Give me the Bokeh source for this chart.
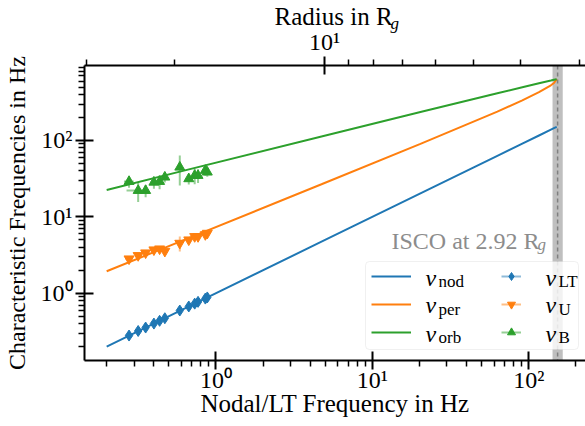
from bokeh.plotting import figure
from bokeh.models import (FixedTicker, LinearAxis, Label, Legend, LegendItem,
                          BoxAnnotation, Span, Range1d, Title)
from bokeh.embed import file_html
from bokeh.resources import INLINE

# ---------------- data ----------------
# model curves, sampled along the nodal-frequency axis
line_x = [0.2, 0.633, 4.73, 20.3, 63.0, 91.0, 116.3, 138.6, 145.0, 151.0]
nu_nod = [0.2, 0.633, 4.73, 20.3, 63.0, 91.0, 116.3, 138.6, 145.0, 151.0]
nu_per = [1.94, 5.04, 26.7, 90.2, 239.0, 336.0, 429.0, 528.0, 566.0, 636.0]
nu_orb = [22.5, 40.6, 112.9, 236.0, 416.0, 498.0, 561.0, 610.0, 624.0, 636.0]

# observed QPOs (x = measured LT frequency)
obs_x = [0.278, 0.318, 0.355, 0.401, 0.436, 0.471, 0.587, 0.670, 0.731, 0.768, 0.855, 0.880]
obs_xerr = [0.015, 0.012, 0.012, 0.015, 0.015, 0.015, 0.02, 0.02, 0.02, 0.02, 0.025, 0.025]
nu_LT = [0.279, 0.32, 0.355, 0.40, 0.435, 0.47, 0.593, 0.67, 0.73, 0.77, 0.85, 0.88]
nu_LT_err = [0.015, 0.012, 0.012, 0.015, 0.015, 0.015, 0.02, 0.02, 0.02, 0.02, 0.025, 0.025]
nu_U = [2.82, 3.12, 3.38, 3.70, 3.81, 3.55, 4.52, 5.00, 5.53, 5.53, 5.87, 6.11]
nu_U_err = [0.25, 0.2, 0.2, 0.25, 0.3, 0.3, 1.0, 0.3, 0.35, 0.3, 0.3, 0.3]
nu_B = [29.0, 22.1, 22.1, 28.4, 29.0, 33.1, 44.7, 31.5, 34.8, 34.8, 40.5, 38.5]
nu_B_err = [5.0, 6.5, 4.0, 5.0, 6.0, 5.0, 19.0, 5.0, 8.0, 7.0, 6.0, 5.0]
nu_B_xerr = [0.02, 0.05, 0.015, 0.02, 0.02, 0.02, 0.02, 0.03, 0.03, 0.02, 0.02, 0.02]

# ISCO
isco_freq = 153.0
isco_lo, isco_hi = 142.0, 165.0

# tick labels
major_ticks = [1, 10, 100]
major_labels = {1: "10⁰", 10: "10¹", 100: "10²"}
x_minor = [0.2, 0.3, 0.4, 0.5, 0.6, 0.7, 0.8, 0.9, 2, 3, 4, 5, 6, 7, 8, 9,
           20, 30, 40, 50, 60, 70, 80, 90, 200]
y_minor = x_minor + [300, 400, 500, 600, 700, 800, 900]
# top axis: radius in R_g -> position on the nodal-frequency axis
top_radius = [30, 20, 10, 9, 8, 7, 6, 5, 4, 3]
top_freq = [0.1486, 0.540, 4.947, 7.03, 10.15, 15.53, 25.19, 44.63, 88.9, 211.3]
top_major_radius = 10

BLUE, ORANGE, GREEN = "#1f77b4", "#ff7f0e", "#2ca02c"
FONT = "Liberation Serif"

p = figure(width=585, height=426, x_axis_type="log", y_axis_type="log",
           x_range=Range1d(0.1443, 230.7), y_range=Range1d(0.1314, 960),
           output_backend="svg", toolbar_location=None,
           min_border_left=82, min_border_right=0, min_border_top=65,
           min_border_bottom=66)
p.outline_line_color = None
p.grid.visible = False
p.background_fill_color = "white"
p.border_fill_color = "white"


def style_axis(ax):
    ax.axis_line_width = 2
    ax.axis_line_color = "black"
    ax.major_tick_line_width = 2
    ax.minor_tick_line_width = 1.5
    ax.major_tick_in = 9
    ax.major_tick_out = 9
    ax.minor_tick_in = 0
    ax.minor_tick_out = 6
    ax.major_label_text_font = FONT
    ax.major_label_text_font_size = "24px"
    ax.major_label_text_color = "black"
    ax.axis_label_text_font = FONT
    ax.axis_label_text_font_size = "25px"
    ax.axis_label_text_font_style = "normal"
    ax.axis_label_text_color = "black"


p.xaxis.ticker = FixedTicker(ticks=major_ticks, minor_ticks=x_minor)
p.yaxis.ticker = FixedTicker(ticks=major_ticks, minor_ticks=y_minor)
p.xaxis.major_label_overrides = major_labels
p.yaxis.major_label_overrides = major_labels
p.xaxis.axis_label = "Nodal/LT Frequency in Hz"
p.yaxis.axis_label = "Characteristic Frequencies in Hz"
for ax in p.xaxis + p.yaxis:
    style_axis(ax)
p.yaxis.axis_label_text_font_size = "24px"
p.xaxis.major_label_standoff = -3
p.xaxis.axis_label_standoff = -6
p.yaxis.major_label_standoff = 3
p.yaxis.axis_label_standoff = 8

tmaj = top_freq[top_radius.index(top_major_radius)]
top_axis = LinearAxis(ticker=FixedTicker(ticks=[tmaj],
                                         minor_ticks=[f for f, r in zip(top_freq, top_radius)
                                                      if r != top_major_radius]),
                      major_label_overrides={tmaj: "10¹"})
style_axis(top_axis)
top_axis.major_label_standoff = 2
p.add_layout(top_axis, "above")

# top axis title: "Radius in R_g"
p.add_layout(Title(text="g", align="left", offset=306, standoff=-15, vertical_align="bottom",
                   text_font=FONT, text_font_size="17px", text_font_style="italic",
                   text_color="black"), "above")
p.add_layout(Title(text="Radius in R", align="left", offset=190, standoff=-20,
                   vertical_align="bottom", text_font=FONT, text_font_size="25px",
                   text_font_style="normal", text_color="black"), "above")

# ISCO band and dashed line
p.add_layout(BoxAnnotation(left=isco_lo, right=isco_hi, fill_color="gray", fill_alpha=0.5,
                           line_color=None, level="underlay"))
p.add_layout(Span(location=isco_freq, dimension="height", line_color="#808080",
                  line_width=1.5, line_dash="4 3", level="underlay"))

# model lines
r_nod = p.line(line_x, nu_nod, line_color=BLUE, line_width=2)
r_per = p.line(line_x, nu_per, line_color=ORANGE, line_width=2)
r_orb = p.line(line_x, nu_orb, line_color=GREEN, line_width=2)


def errbars(xs, ys, xe, ye, color):
    h = p.segment([x - e for x, e in zip(xs, xe)], ys, [x + e for x, e in zip(xs, xe)], ys,
                  line_color=color, line_alpha=0.5, line_width=2)
    p.segment(xs, [y - e for y, e in zip(ys, ye)], xs, [y + e for y, e in zip(ys, ye)],
              line_color=color, line_alpha=0.5, line_width=2)
    return h


h_lt = errbars(obs_x, nu_LT, obs_xerr, nu_LT_err, BLUE)
s_lt = p.scatter(obs_x, nu_LT, marker="diamond", size=11, color=BLUE)
h_u = errbars(obs_x, nu_U, obs_xerr, nu_U_err, ORANGE)
s_u = p.scatter(obs_x, nu_U, marker="inverted_triangle", size=10, color=ORANGE)
h_b = errbars(obs_x, nu_B, nu_B_xerr, nu_B_err, GREEN)
s_b = p.scatter(obs_x, nu_B, marker="triangle", size=10, color=GREEN)

# ISCO text
p.add_layout(Label(x=307, y=120, x_units="screen", y_units="screen", text="ISCO at 2.92 R",
                   text_font=FONT, text_font_size="24px", text_color="#8c8c8c",
                   text_baseline="alphabetic"))
p.add_layout(Label(x=453, y=116, x_units="screen", y_units="screen", text="g",
                   text_font=FONT, text_font_size="17px", text_font_style="italic",
                   text_color="#8c8c8c", text_baseline="alphabetic"))

# legend box
p.add_layout(BoxAnnotation(left=281, right=494, top=99, bottom=11,
                           left_units="screen", right_units="screen",
                           top_units="screen", bottom_units="screen",
                           fill_color="white", fill_alpha=0.8, line_color="#cccccc",
                           line_width=1, border_radius=4, level="annotation"))

leg_common = dict(orientation="vertical", glyph_height=28, label_height=28, label_width=1,
                  spacing=0, padding=0, margin=0, border_line_color=None,
                  background_fill_alpha=0, label_standoff=0, label_text_font_size="1px")
leg1 = Legend(items=[LegendItem(label=" ", renderers=[r_nod]),
                     LegendItem(label=" ", renderers=[r_per]),
                     LegendItem(label=" ", renderers=[r_orb])],
              location=(287, 14), glyph_width=40, **leg_common)
leg2 = Legend(items=[LegendItem(label=" ", renderers=[h_lt, s_lt]),
                     LegendItem(label=" ", renderers=[h_u, s_u]),
                     LegendItem(label=" ", renderers=[h_b, s_b])],
              location=(417, 14), glyph_width=20, **leg_common)
p.add_layout(leg1)
p.add_layout(leg2)

legend_subs = [("nod", "LT"), ("per", "U"), ("orb", "B")]
row_base = [83, 55.5, 27]
for (s1, s2), yb in zip(legend_subs, row_base):
    for xnu, sub in ((341, s1), (461, s2)):
        p.add_layout(Label(x=xnu, y=yb, x_units="screen", y_units="screen", text="ν",
                           text_font=FONT, text_font_size="24px", text_font_style="italic",
                           text_color="black", text_baseline="alphabetic"))
        p.add_layout(Label(x=xnu + 13, y=yb - 4, x_units="screen", y_units="screen", text=sub,
                           text_font=FONT, text_font_size="17px", text_color="black",
                           text_baseline="alphabetic"))

open("out.html", "w").write(file_html(p, INLINE))
